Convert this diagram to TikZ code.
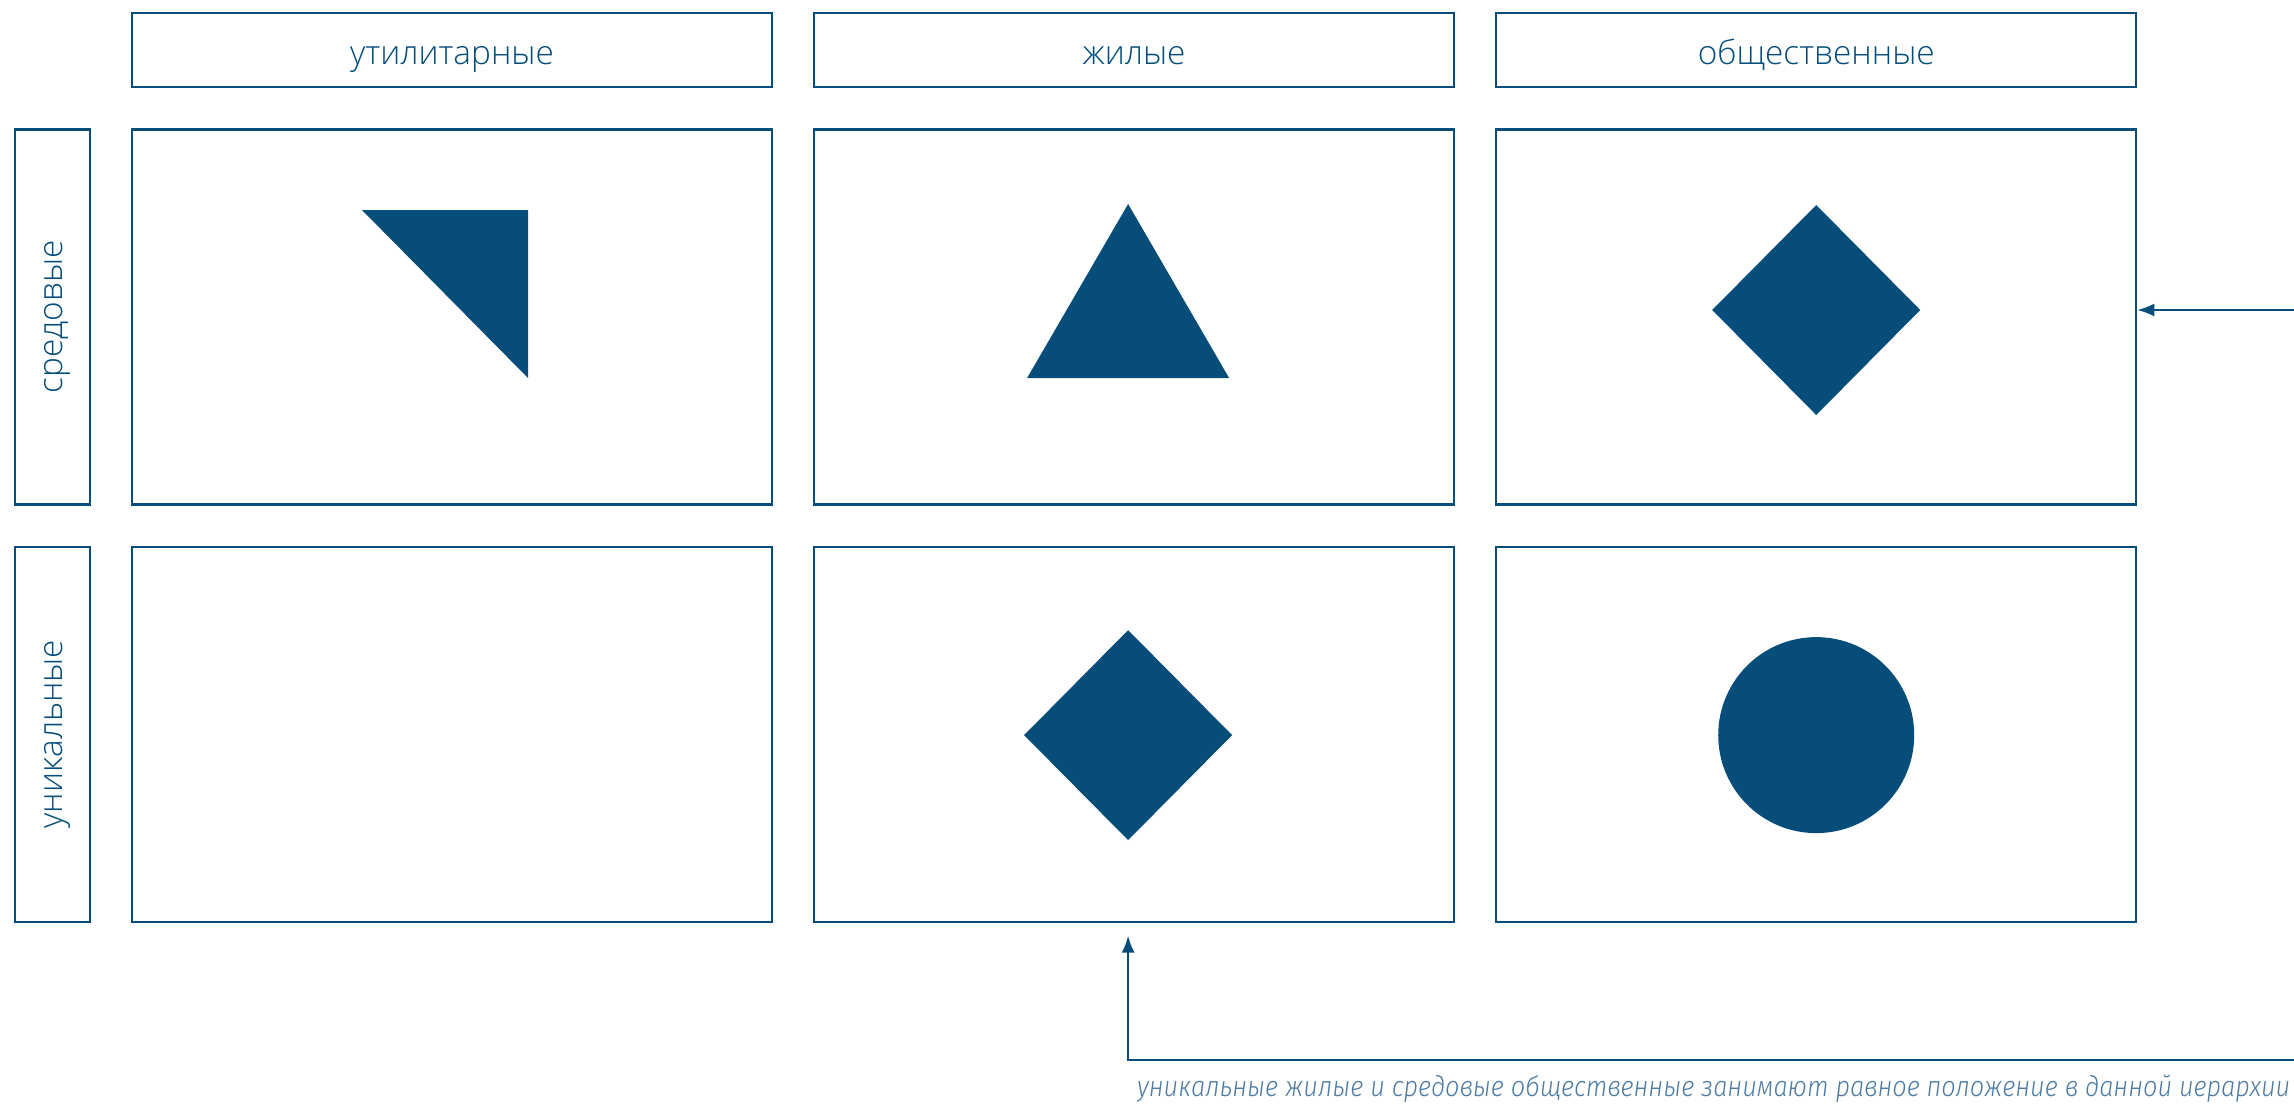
\documentclass[tikz,border=0pt]{standalone}
\usepackage{fontspec}
\setmainfont{Open Sans Light}
\newfontfamily\notefont{Fira Sans Light Italic}
\usepackage{graphicx}
\usetikzlibrary{arrows.meta,positioning,calc}
\definecolor{ink}{HTML}{064D7A}
\definecolor{soft}{HTML}{4D7BA3}

\begin{document}
\begin{tikzpicture}[x=0.1mm,y=-0.1mm,node distance=4mm and 4mm,
 cell/.style={draw=ink,line width=0.6pt,inner sep=0pt,minimum width=64mm,minimum height=37.5mm},
 head/.style={draw=ink,line width=0.6pt,inner sep=0pt,minimum width=64mm,minimum height=7.4mm,
 text height=8pt,text depth=0pt,text=ink,font=\fontsize{9.5}{12}\selectfont},
 side/.style={draw=ink,line width=0.6pt,inner sep=0pt,minimum width=7.5mm,minimum height=37.5mm,
 text=ink,font=\fontsize{9.5}{12}\selectfont},
 note/.style={text=soft,inner sep=0pt,font=\notefont\fontsize{8.1}{10}\selectfont},
 arr/.style={draw=ink,line width=0.6pt,-{Latex[length=1.7mm,width=1.3mm]}}]
 \useasboundingbox (0,0) rectangle (2294,1104);
 % grid of cells
 \node[cell] (c11) at (452,317) {};
 \node[cell,right=of c11] (c12) {};
 \node[cell,right=of c12] (c13) {};
 \node[cell,below=of c11] (c21) {};
 \node[cell,right=of c21] (c22) {};
 \node[cell,right=of c22] (c23) {};
 % column heads
 \node[head,above=of c11] (h1) {утилитарные};
 \node[head,above=of c12] (h2) {жилые};
 \node[head,above=of c13] (h3) {общественные};
 % row heads
 \node[side,left=of c11] (s1) {\rotatebox{90}{\rule{0pt}{8pt}средовые}};
 \node[side,left=of c21] (s2) {\rotatebox{90}{\rule{0pt}{8pt}уникальные}};
 % marks
 \fill[ink] (c11) ++(-90,-107) -- ++(166,0) -- ++(0,168) -- cycle;
 \fill[ink] (c12) ++(-6,-113) -- ++(101,174) -- ++(-202,0) -- cycle;
 \fill[ink] (c13) ++(0,-7) +(0,-105) -- +(104,0) -- +(0,105) -- +(-104,0) -- cycle;
 \fill[ink] (c22) ++(-6,1) +(0,-105) -- +(104,0) -- +(0,105) -- +(-104,0) -- cycle;
 \fill[ink] (c23) ++(0,1) circle[radius=9.8mm];
 % arrows
 \coordinate (rin) at (2294,310);
 \coordinate (bin) at (2294,1060);
 \draw[arr] (rin) -- (rin -| c13.east);
 \draw[arr] (bin) -| ($(c22.south)+(-6,13)$);
 \node[note,anchor=base east] (txt) at (2291,1096)
 {\scalebox{0.89}[1]{уникальные жилые и средовые общественные занимают равное положение в данной иерархии}};
\end{tikzpicture}
\end{document}
